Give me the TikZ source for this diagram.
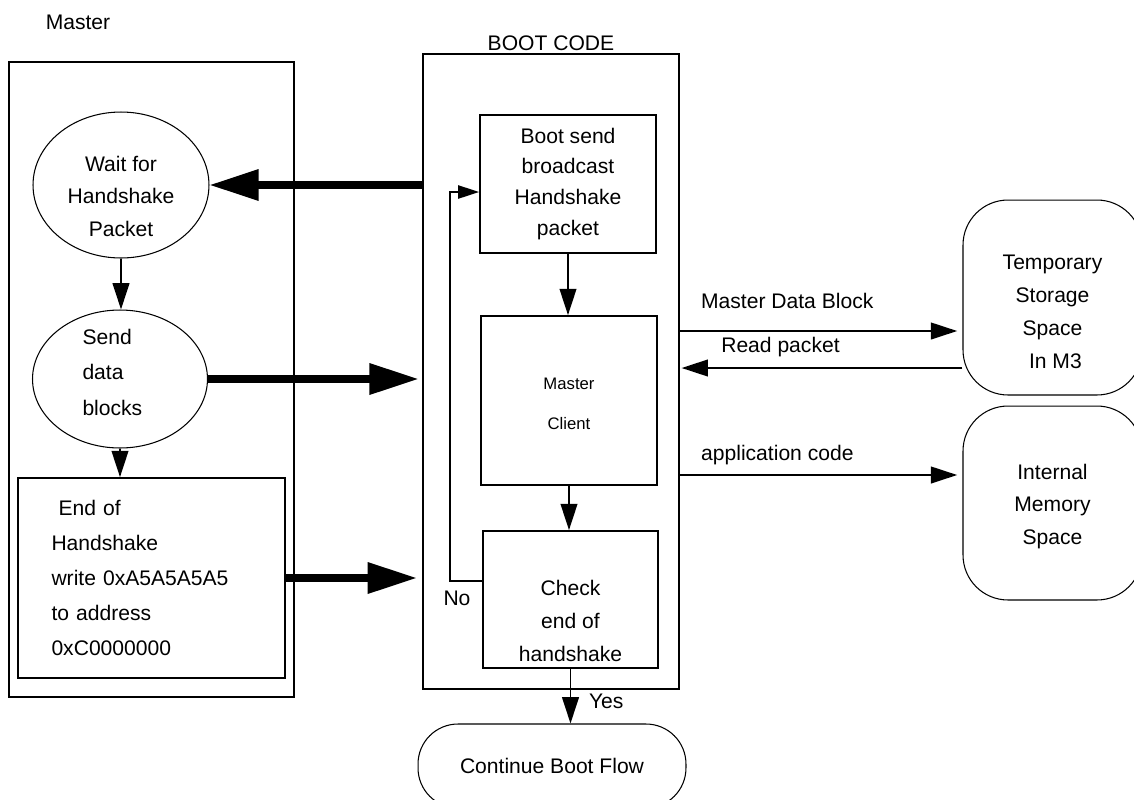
\documentclass[tikz,border=0pt]{standalone}
\usepackage{fontspec}
\setmainfont{Liberation Sans}
\usetikzlibrary{shapes,arrows.meta,positioning,calc}

\begin{document}
\begin{tikzpicture}[x=0.02cm,y=-0.02cm,
    font=\fontsize{12}{18.7}\selectfont,
    frame/.style={draw, line width=1pt, inner sep=0pt},
    oval/.style={draw, ellipse, line width=0.6pt, inner sep=-2pt},
    memory/.style={draw, line width=0.6pt, rounded corners=0.9cm, minimum width=3.58cm, align=center},
    flow/.style={-{Triangle[length=15pt,width=9.5pt]}, line width=1.1pt},
    backflow/.style={-{Triangle[length=12pt,width=7.5pt]}, line width=1.1pt},
    bigflow/.style={-{Triangle[length=28pt,width=17pt]}, line width=4pt},
    lbl/.style={inner sep=1pt}]
    \useasboundingbox (0,0) rectangle (1134,799);

    % the two columns
    \node (mastertitle) at (78,22) {Master};
    \node[frame, minimum width=5.7cm, minimum height=12.7cm] (master) at (151.5,379.5) {};
    \node (boottitle) at (551,43) {BOOT CODE};
    \node[frame, minimum width=5.12cm, minimum height=12.7cm] (boot) at (551,371.5) {};

    % master side
    \node[oval, minimum width=3.52cm, minimum height=2.92cm, align=center] (wait) at (121,185) {\mbox{}\\[2.9pt]Wait for\\Handshake\\Packet};
    \node[oval, minimum width=3.5cm, minimum height=2.76cm, text width=1.5cm, align=left,
          font=\fontsize{12}{20}\selectfont] (send) at (120,379) {\mbox{}\\[-18.8pt]Send\\data\\blocks};
    \node[frame, minimum width=5.34cm, minimum height=4cm, text width=4cm, align=left,
          font=\fontsize{12}{20}\selectfont] (endhs) at (151.5,578) {\ End of\\Handshake\\write 0xA5A5A5A5\\to address\\0xC0000000};

    % boot side
    \node[frame, minimum width=3.52cm, minimum height=2.76cm, align=center,
          font=\fontsize{12}{17.6}\selectfont] (bootsend) at (568,184) {Boot send\\broadcast\\Handshake\\packet};
    \node[frame, minimum width=3.52cm, minimum height=3.38cm, align=center,
          font=\fontsize{9.5}{22.7}\selectfont] (client) at (569,400.5) {\mbox{}\\[-12.5pt]Master\\Client};
    \node[frame, minimum width=3.5cm, minimum height=2.74cm, align=center] (check) at (570.5,599.5) {\mbox{}\\[14.3pt]Check\\end of\\handshake};
    \node[draw, line width=0.6pt, rounded corners=0.8cm, minimum width=5.36cm, minimum height=1.68cm] (cont) at (552,766) {Continue Boot Flow};

    % memories
    \node[memory, minimum height=3.9cm] (temp) at (1052.5,297.5) {\mbox{}\\[5.7pt]Temporary\\Storage\\Space\\\ In M3};
    \node[memory, minimum height=3.88cm] (intmem) at (1052.5,503) {\mbox{}\\[-6pt]Internal\\Memory\\Space};

    % flow inside the boxes
    \draw[flow] (wait.south) -- (wait.south |- send.north);
    \draw[flow] (send.south) -- (send.south |- endhs.north);
    \draw[flow] (bootsend.south) -- (bootsend.south |- client.north);
    \draw[flow] (client.south) -- (client.south |- check.north);
    \draw[flow] (check.south) -- node[lbl, right=9pt, pos=0.6] {Yes} (check.south |- cont.north);

    % retry loop
    \coordinate (nobend) at (450,581);
    \coordinate (noback) at (450,192);
    \draw[backflow] (check.west |- nobend) -- (nobend) -- (noback) -- (bootsend.west |- noback);
    \node (nolbl) at (457,598) {No};

    % handshake between master and boot code
    \draw[bigflow] (boot.west |- wait.east) -- (wait.east);
    \draw[bigflow, shorten >=2pt] (send.east) -- (boot.west |- send.east);
    \draw[bigflow, shorten >=3pt] (endhs.east) -- (boot.west |- endhs.east);

    % memory transfers
    \coordinate (mdbrow) at (679,331);
    \coordinate (rprow) at (679,368);
    \coordinate (approw) at (679,475);
    \draw[flow, shorten >=3pt] (boot.east |- mdbrow) -- node[lbl, above=10.9pt, pos=0.38] {Master Data Block} (temp.west |- mdbrow);
    \draw[flow, shorten >=1pt] (temp.west |- rprow) -- node[lbl, above=4.6pt, pos=0.644] {Read packet} (boot.east |- rprow);
    \draw[flow, shorten >=3pt] (boot.east |- approw) -- node[lbl, above=4.3pt, pos=0.345] {application code} (intmem.west |- approw);
\end{tikzpicture}
\end{document}
